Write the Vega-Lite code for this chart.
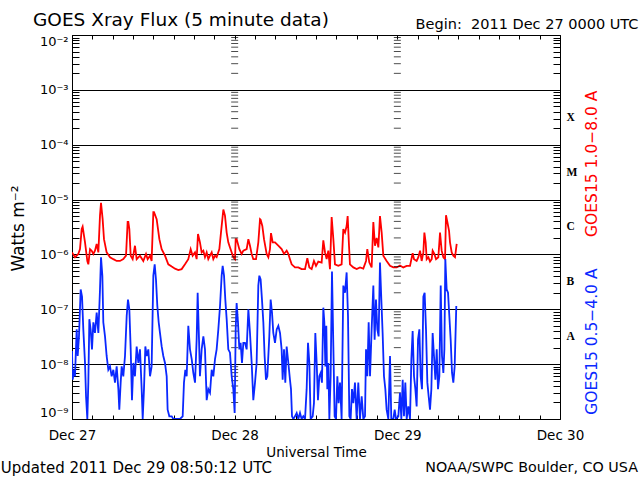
{
"$schema": "https://vega.github.io/schema/vega-lite/v6.json",
"width": 488, "height": 384,
"autosize": "none",
"padding": {"left": 72, "top": 35, "right": 80, "bottom": 61},
"background": "white",
"title": {"text": "GOES Xray Flux (5 minute data)", "anchor": "start", "frame": "group", "font": "DejaVu Sans", "fontSize": 18.5, "fontWeight": "normal", "color": "black", "dx": -39, "dy": 17},
"config": {"view": {"stroke": null}, "axis": {"labelFont": "DejaVu Sans", "titleFont": "DejaVu Sans", "domainColor": "black", "tickColor": "black", "labelColor": "black", "titleColor": "black", "titleFontWeight": "normal", "domainWidth": 1, "tickWidth": 1}},
"datasets": {
"long": [{"h":0,"f":1.09e-6},{"h":0.44,"f":8.9e-7},{"h":0.93,"f":1.02e-6},{"h":1.18,"f":1.25e-6},{"h":1.43,"f":2.9e-6},{"h":1.57,"f":3.2e-6},{"h":1.92,"f":1.66e-6},{"h":2.26,"f":7.6e-7},{"h":2.41,"f":6.6e-7},{"h":2.66,"f":1.25e-6},{"h":2.9,"f":1.17e-6},{"h":3.15,"f":1.02e-6},{"h":3.39,"f":1.17e-6},{"h":3.64,"f":1.55e-6},{"h":3.89,"f":1.09e-6},{"h":4.13,"f":5.1e-6},{"h":4.28,"f":8.7e-6},{"h":4.52,"f":4.4e-6},{"h":4.72,"f":1.9e-6},{"h":5.11,"f":1.09e-6},{"h":5.61,"f":8.9e-7},{"h":6.1,"f":8.2e-7},{"h":6.59,"f":7.6e-7},{"h":7.08,"f":7.6e-7},{"h":7.57,"f":8.2e-7},{"h":7.97,"f":9.5e-7},{"h":8.21,"f":3.9e-6},{"h":8.31,"f":3.9e-6},{"h":8.46,"f":2.9e-6},{"h":8.66,"f":9.5e-7},{"h":8.95,"f":8.2e-7},{"h":9.29,"f":1.44e-6},{"h":9.54,"f":8.2e-7},{"h":10.03,"f":9.5e-7},{"h":10.52,"f":7.6e-7},{"h":10.92,"f":1.02e-6},{"h":11.16,"f":8.2e-7},{"h":11.51,"f":9.5e-7},{"h":11.75,"f":7.6e-7},{"h":12.0,"f":5.9e-6},{"h":12.1,"f":5.9e-6},{"h":12.49,"f":4.4e-6},{"h":12.89,"f":1.9e-6},{"h":13.23,"f":1.25e-6},{"h":13.72,"f":9.5e-7},{"h":14.21,"f":6.6e-7},{"h":14.71,"f":6.0e-7},{"h":15.2,"f":5.5e-7},{"h":15.69,"f":5.2e-7},{"h":16.18,"f":5.4e-7},{"h":16.67,"f":6.6e-7},{"h":17.16,"f":8.2e-7},{"h":17.51,"f":1.25e-6},{"h":17.8,"f":9.5e-7},{"h":18.15,"f":1.09e-6},{"h":18.39,"f":8.2e-7},{"h":18.59,"f":2.35e-6},{"h":18.88,"f":1.66e-6},{"h":19.13,"f":1.09e-6},{"h":19.38,"f":1.17e-6},{"h":19.62,"f":8.9e-7},{"h":19.87,"f":1.09e-6},{"h":20.11,"f":8.2e-7},{"h":20.36,"f":9.5e-7},{"h":20.61,"f":1.09e-6},{"h":20.85,"f":8.2e-7},{"h":21.1,"f":9.5e-7},{"h":21.34,"f":8.9e-7},{"h":21.74,"f":1.25e-6},{"h":21.98,"f":2.5e-6},{"h":22.33,"f":6.6e-6},{"h":22.57,"f":5.1e-6},{"h":22.82,"f":2.5e-6},{"h":23.06,"f":1.66e-6},{"h":23.31,"f":1.34e-6},{"h":23.8,"f":8.9e-7},{"h":24.05,"f":8.2e-7},{"h":24.15,"f":1.9e-6},{"h":24.29,"f":1.9e-6},{"h":24.69,"f":1.25e-6},{"h":25.03,"f":1.02e-6},{"h":25.28,"f":1.17e-6},{"h":25.77,"f":1.25e-6},{"h":26.02,"f":1.9e-6},{"h":26.26,"f":1.44e-6},{"h":26.51,"f":1.02e-6},{"h":26.75,"f":8.2e-7},{"h":27.15,"f":8.2e-7},{"h":27.49,"f":1.66e-6},{"h":27.74,"f":4.4e-6},{"h":27.83,"f":4.3e-6},{"h":28.08,"f":3.3e-6},{"h":28.33,"f":1.9e-6},{"h":28.72,"f":1.02e-6},{"h":28.97,"f":8.9e-7},{"h":29.21,"f":1.25e-6},{"h":29.36,"f":2.45e-6},{"h":29.61,"f":1.66e-6},{"h":29.95,"f":1.66e-6},{"h":30.44,"f":1.44e-6},{"h":30.93,"f":1.25e-6},{"h":31.28,"f":1.02e-6},{"h":31.67,"f":1.17e-6},{"h":31.92,"f":1.02e-6},{"h":32.16,"f":8.2e-7},{"h":32.41,"f":6.6e-7},{"h":32.9,"f":5.8e-7},{"h":33.39,"f":5.8e-7},{"h":33.88,"f":5.4e-7},{"h":34.38,"f":5.4e-7},{"h":34.72,"f":8.5e-7},{"h":35.02,"f":5.8e-7},{"h":35.36,"f":5.4e-7},{"h":35.7,"f":7.6e-7},{"h":36.0,"f":6.2e-7},{"h":36.34,"f":7.4e-7},{"h":36.83,"f":7.1e-7},{"h":37.08,"f":1.8e-6},{"h":37.33,"f":1.09e-6},{"h":37.57,"f":8.2e-7},{"h":37.82,"f":1.17e-6},{"h":38.06,"f":5.4e-7},{"h":38.31,"f":4.8e-6},{"h":38.56,"f":1.9e-6},{"h":38.8,"f":6.6e-7},{"h":39.29,"f":6.2e-7},{"h":39.78,"f":6.6e-7},{"h":40.03,"f":2.9e-6},{"h":40.28,"f":2.5e-6},{"h":40.52,"f":3.3e-6},{"h":40.67,"f":5.0e-6},{"h":40.87,"f":1.44e-6},{"h":41.01,"f":6.6e-7},{"h":41.51,"f":5.8e-7},{"h":42.0,"f":5.4e-7},{"h":42.49,"f":5.8e-7},{"h":42.98,"f":5.5e-7},{"h":43.38,"f":7.6e-7},{"h":43.57,"f":1.25e-6},{"h":43.87,"f":7.1e-7},{"h":44.21,"f":5.8e-7},{"h":44.46,"f":3.9e-6},{"h":44.7,"f":1.44e-6},{"h":44.95,"f":2.0e-6},{"h":45.2,"f":1.34e-6},{"h":45.44,"f":5.0e-6},{"h":45.69,"f":2.5e-6},{"h":45.93,"f":9.5e-7},{"h":46.42,"f":7.6e-7},{"h":46.92,"f":6.2e-7},{"h":47.41,"f":5.8e-7},{"h":47.9,"f":5.8e-7},{"h":48.39,"f":6.3e-7},{"h":48.88,"f":5.8e-7},{"h":49.38,"f":6.2e-7},{"h":49.87,"f":6.2e-7},{"h":49.97,"f":7.1e-7},{"h":50.26,"f":1.05e-6},{"h":50.46,"f":8.2e-7},{"h":50.85,"f":7.6e-7},{"h":51.1,"f":8.9e-7},{"h":51.35,"f":1.17e-6},{"h":51.59,"f":7.6e-7},{"h":51.84,"f":1.09e-6},{"h":51.99,"f":2.5e-6},{"h":52.18,"f":1.66e-6},{"h":52.33,"f":8.2e-7},{"h":52.58,"f":8.9e-7},{"h":52.82,"f":7.4e-7},{"h":53.07,"f":8.2e-7},{"h":53.21,"f":1.17e-6},{"h":53.46,"f":1.02e-6},{"h":53.71,"f":8.2e-7},{"h":54.05,"f":8.9e-7},{"h":54.3,"f":2.5e-6},{"h":54.54,"f":1.17e-6},{"h":54.79,"f":8.9e-7},{"h":55.04,"f":8.2e-7},{"h":55.18,"f":5.2e-6},{"h":55.38,"f":3.9e-6},{"h":55.63,"f":2.7e-6},{"h":55.77,"f":1.66e-6},{"h":56.02,"f":1.09e-6},{"h":56.26,"f":9.5e-7},{"h":56.51,"f":8.9e-7},{"h":56.76,"f":1.55e-6}],
"short": [{"h":0,"f":1.74e-8},{"h":0.1,"f":5.2e-9},{"h":0.3,"f":7.9e-9},{"h":0.44,"f":6.0e-9},{"h":0.69,"f":4.3e-8},{"h":0.84,"f":1.41e-8},{"h":1.03,"f":3.2e-8},{"h":1.28,"f":2.3e-7},{"h":1.48,"f":1.7e-7},{"h":1.67,"f":4.3e-8},{"h":1.92,"f":1.05e-8},{"h":2.07,"f":2.6e-9},{"h":2.26,"f":1e-9},{"h":2.41,"f":4.6e-9},{"h":2.56,"f":6.6e-8},{"h":2.75,"f":4.3e-8},{"h":2.95,"f":1.86e-8},{"h":3.15,"f":5.8e-8},{"h":3.39,"f":3.7e-8},{"h":3.64,"f":8.7e-8},{"h":3.89,"f":3.7e-8},{"h":4.13,"f":2.3e-7},{"h":4.28,"f":8.9e-7},{"h":4.48,"f":4.1e-7},{"h":4.62,"f":5.8e-8},{"h":4.87,"f":3.2e-8},{"h":5.11,"f":1.41e-8},{"h":5.36,"f":7.9e-9},{"h":5.61,"f":9.1e-9},{"h":5.85,"f":6.0e-9},{"h":6.1,"f":7.9e-9},{"h":6.34,"f":4.6e-9},{"h":6.59,"f":9.1e-9},{"h":6.84,"f":3.5e-9},{"h":6.98,"f":1.48e-9},{"h":7.18,"f":4.6e-9},{"h":7.33,"f":9.1e-9},{"h":7.57,"f":6.0e-9},{"h":7.82,"f":1.41e-8},{"h":8.07,"f":7.6e-8},{"h":8.26,"f":1.5e-7},{"h":8.46,"f":1.0e-7},{"h":8.66,"f":1.86e-8},{"h":8.85,"f":2.2e-9},{"h":9.05,"f":1.05e-8},{"h":9.29,"f":6.0e-9},{"h":9.54,"f":2.1e-8},{"h":9.79,"f":1.05e-8},{"h":10.03,"f":1.86e-8},{"h":10.28,"f":3.5e-9},{"h":10.43,"f":1e-9},{"h":10.62,"f":3.5e-9},{"h":10.82,"f":2.1e-8},{"h":11.02,"f":1.41e-8},{"h":11.26,"f":1.86e-8},{"h":11.51,"f":6.0e-9},{"h":11.75,"f":9.1e-9},{"h":12.0,"f":4.1e-7},{"h":12.2,"f":6.6e-7},{"h":12.39,"f":3.5e-7},{"h":12.59,"f":1.15e-7},{"h":12.79,"f":5.8e-8},{"h":12.98,"f":3.7e-8},{"h":13.23,"f":2.1e-8},{"h":13.47,"f":1.41e-8},{"h":13.72,"f":1.05e-8},{"h":13.97,"f":6.0e-9},{"h":14.11,"f":1.48e-9},{"h":14.36,"f":1.12e-9},{"h":14.71,"f":1.12e-9},{"h":14.95,"f":1e-9},{"h":15.44,"f":1e-9},{"h":15.93,"f":1e-9},{"h":16.33,"f":1.12e-9},{"h":16.52,"f":4.6e-9},{"h":16.72,"f":7.9e-9},{"h":16.92,"f":6.0e-9},{"h":17.16,"f":5.0e-8},{"h":17.41,"f":1.86e-8},{"h":17.66,"f":1.23e-8},{"h":17.9,"f":6.9e-9},{"h":18.15,"f":4.6e-9},{"h":18.39,"f":2.8e-8},{"h":18.54,"f":2.0e-7},{"h":18.74,"f":2.8e-8},{"h":18.88,"f":6.0e-9},{"h":19.13,"f":1.86e-8},{"h":19.38,"f":3.2e-8},{"h":19.62,"f":1.86e-8},{"h":19.87,"f":2.2e-9},{"h":20.11,"f":3.5e-9},{"h":20.36,"f":3.0e-9},{"h":20.61,"f":7.9e-9},{"h":20.85,"f":6.0e-9},{"h":21.1,"f":1.23e-8},{"h":21.34,"f":1.86e-8},{"h":21.59,"f":4.3e-8},{"h":21.84,"f":1.15e-7},{"h":22.08,"f":4.1e-7},{"h":22.23,"f":6.2e-7},{"h":22.43,"f":4.1e-7},{"h":22.62,"f":1.5e-7},{"h":22.82,"f":6.6e-8},{"h":23.06,"f":1.86e-8},{"h":23.31,"f":1.62e-8},{"h":23.56,"f":6.0e-9},{"h":23.8,"f":3.5e-9},{"h":24.0,"f":1.29e-9},{"h":24.15,"f":4.3e-8},{"h":24.29,"f":1.3e-7},{"h":24.49,"f":5.8e-8},{"h":24.69,"f":1.86e-8},{"h":24.88,"f":2.45e-8},{"h":25.08,"f":1.05e-8},{"h":25.28,"f":2.45e-8},{"h":25.52,"f":2.45e-8},{"h":25.77,"f":1.86e-8},{"h":26.02,"f":1.0e-7},{"h":26.26,"f":3.7e-8},{"h":26.51,"f":1.05e-8},{"h":26.75,"f":2.2e-9},{"h":27.0,"f":4.6e-9},{"h":27.24,"f":1.05e-8},{"h":27.49,"f":2.7e-7},{"h":27.64,"f":4.1e-7},{"h":27.83,"f":3.5e-7},{"h":28.03,"f":1.5e-7},{"h":28.23,"f":5.8e-8},{"h":28.42,"f":1.41e-8},{"h":28.62,"f":5.2e-9},{"h":28.82,"f":6.0e-9},{"h":29.11,"f":3.2e-8},{"h":29.31,"f":1.5e-7},{"h":29.51,"f":8.7e-8},{"h":29.7,"f":3.7e-8},{"h":29.95,"f":2.45e-8},{"h":30.2,"f":4.3e-8},{"h":30.44,"f":5.0e-8},{"h":30.69,"f":3.7e-8},{"h":30.93,"f":1.86e-8},{"h":31.08,"f":5.2e-9},{"h":31.28,"f":1.86e-8},{"h":31.47,"f":4.6e-9},{"h":31.67,"f":2.1e-8},{"h":31.92,"f":1.05e-8},{"h":32.16,"f":5.2e-9},{"h":32.31,"f":3.5e-9},{"h":32.46,"f":1.12e-9},{"h":32.65,"f":1e-9},{"h":32.9,"f":1.12e-9},{"h":33.15,"f":1.29e-9},{"h":33.39,"f":1e-9},{"h":33.64,"f":1.29e-9},{"h":33.88,"f":1e-9},{"h":34.13,"f":1.12e-9},{"h":34.38,"f":1e-9},{"h":34.62,"f":3.5e-9},{"h":34.82,"f":2.45e-8},{"h":35.02,"f":1.05e-8},{"h":35.21,"f":1e-9},{"h":35.51,"f":1.12e-9},{"h":35.7,"f":1.95e-9},{"h":35.9,"f":3.7e-8},{"h":36.1,"f":1.05e-8},{"h":36.29,"f":2.2e-9},{"h":36.49,"f":6.0e-9},{"h":36.69,"f":6.9e-9},{"h":36.88,"f":4.6e-9},{"h":37.08,"f":1.07e-7},{"h":37.23,"f":5.8e-8},{"h":37.38,"f":9.1e-9},{"h":37.52,"f":5.0e-8},{"h":37.67,"f":3.5e-9},{"h":37.82,"f":1.05e-8},{"h":37.97,"f":1e-9},{"h":38.16,"f":6.0e-9},{"h":38.36,"f":4.9e-7},{"h":38.56,"f":2.1e-8},{"h":38.75,"f":1.12e-9},{"h":38.95,"f":1e-9},{"h":39.15,"f":6.0e-9},{"h":39.34,"f":1.95e-9},{"h":39.54,"f":4.6e-9},{"h":39.78,"f":1e-9},{"h":40.03,"f":2.7e-7},{"h":40.28,"f":2.0e-7},{"h":40.52,"f":4.7e-7},{"h":40.72,"f":7.6e-8},{"h":40.92,"f":1.12e-9},{"h":41.11,"f":1e-9},{"h":41.31,"f":3.5e-9},{"h":41.51,"f":1.95e-9},{"h":41.75,"f":4.6e-9},{"h":42.0,"f":1e-9},{"h":42.24,"f":4.6e-9},{"h":42.49,"f":1e-9},{"h":42.74,"f":2.6e-9},{"h":42.98,"f":1e-9},{"h":43.23,"f":1.12e-9},{"h":43.38,"f":1.86e-8},{"h":43.57,"f":6.0e-9},{"h":43.77,"f":5.8e-8},{"h":43.97,"f":6.0e-9},{"h":44.21,"f":4.3e-8},{"h":44.46,"f":2.7e-7},{"h":44.65,"f":2.8e-8},{"h":44.85,"f":1.5e-7},{"h":45.05,"f":4.3e-8},{"h":45.24,"f":3.2e-8},{"h":45.44,"f":7.1e-7},{"h":45.64,"f":1.5e-7},{"h":45.83,"f":3.7e-8},{"h":46.03,"f":6.0e-9},{"h":46.23,"f":3.5e-9},{"h":46.42,"f":1.48e-9},{"h":46.67,"f":1e-9},{"h":46.92,"f":1.41e-8},{"h":47.11,"f":1e-9},{"h":47.41,"f":1e-9},{"h":47.61,"f":1.48e-9},{"h":47.8,"f":1e-9},{"h":48.15,"f":1.12e-9},{"h":48.39,"f":3.0e-9},{"h":48.59,"f":1e-9},{"h":48.79,"f":5.2e-9},{"h":48.98,"f":1.12e-9},{"h":49.18,"f":4.6e-9},{"h":49.38,"f":1e-9},{"h":49.62,"f":1.7e-9},{"h":49.87,"f":1e-9},{"h":50.07,"f":1.23e-8},{"h":50.26,"f":4.0e-8},{"h":50.46,"f":6.0e-9},{"h":50.66,"f":3.5e-9},{"h":50.85,"f":1.7e-9},{"h":51.05,"f":2.8e-8},{"h":51.25,"f":4.3e-8},{"h":51.44,"f":6.0e-9},{"h":51.64,"f":3.5e-9},{"h":51.84,"f":1.7e-7},{"h":52.03,"f":2.0e-7},{"h":52.23,"f":4.3e-8},{"h":52.43,"f":4.6e-9},{"h":52.62,"f":2.6e-9},{"h":52.82,"f":1.48e-9},{"h":53.02,"f":3.5e-9},{"h":53.21,"f":3.7e-8},{"h":53.41,"f":1.41e-8},{"h":53.61,"f":5.2e-9},{"h":53.81,"f":1.86e-8},{"h":54.0,"f":3.5e-9},{"h":54.2,"f":6.0e-9},{"h":54.4,"f":2.7e-7},{"h":54.59,"f":1.41e-8},{"h":54.79,"f":6.9e-9},{"h":54.94,"f":1.86e-8},{"h":55.08,"f":8.2e-7},{"h":55.28,"f":2.3e-7},{"h":55.48,"f":2.0e-7},{"h":55.67,"f":7.6e-8},{"h":55.87,"f":2.8e-8},{"h":56.07,"f":6.9e-9},{"h":56.26,"f":4.6e-9},{"h":56.46,"f":9.1e-9},{"h":56.7,"f":1.15e-7}],
"minors": [{"f":2e-9},{"f":3e-9},{"f":4e-9},{"f":5e-9},{"f":6e-9},{"f":7e-9},{"f":8e-9},{"f":9e-9},{"f":2e-8},{"f":3e-8},{"f":4e-8},{"f":5e-8},{"f":6e-8},{"f":7e-8},{"f":8e-8},{"f":9e-8},{"f":2e-7},{"f":3e-7},{"f":4e-7},{"f":5e-7},{"f":6e-7},{"f":7e-7},{"f":8e-7},{"f":9e-7},{"f":2e-6},{"f":3e-6},{"f":4e-6},{"f":5e-6},{"f":6e-6},{"f":7e-6},{"f":8e-6},{"f":9e-6},{"f":2e-5},{"f":3e-5},{"f":4e-5},{"f":5e-5},{"f":6e-5},{"f":7e-5},{"f":8e-5},{"f":9e-5},{"f":2e-4},{"f":3e-4},{"f":4e-4},{"f":5e-4},{"f":6e-4},{"f":7e-4},{"f":8e-4},{"f":9e-4},{"f":2e-3},{"f":3e-3},{"f":4e-3},{"f":5e-3},{"f":6e-3},{"f":7e-3},{"f":8e-3},{"f":9e-3}]
},
"layer": [
{"data": {"name": "long"},
 "mark": {"type": "line", "color": "#ff0000", "strokeWidth": 1.8, "clip": true},
 "encoding": {
  "x": {"field": "h", "type": "quantitative", "scale": {"domain": [0, 72], "nice": false, "zero": false},
   "axis": {"orient": "bottom", "values": [0,3,6,9,12,15,18,21,24,27,30,33,36,39,42,45,48,51,54,57,60,63,66,69,72], "tickSize": -4, "labelExpr": "datum.value % 24 == 0 ? ['Dec 27','Dec 28','Dec 29','Dec 30'][datum.value/24] : ''", "labelFontSize": 13.5, "labelPadding": 13, "labelFlush": false, "labelOverlap": false, "grid": false, "title": "Universal Time", "titleFontSize": 13.5, "titleY": 37, "titleBaseline": "alphabetic"}},
  "y": {"field": "f", "type": "quantitative", "scale": {"type": "log", "domain": [1e-9, 1e-2], "nice": false},
   "axis": {"orient": "left", "values": [1e-9,2e-9,3e-9,4e-9,5e-9,6e-9,7e-9,8e-9,9e-9,1e-8,2e-8,3e-8,4e-8,5e-8,6e-8,7e-8,8e-8,9e-8,1e-7,2e-7,3e-7,4e-7,5e-7,6e-7,7e-7,8e-7,9e-7,1e-6,2e-6,3e-6,4e-6,5e-6,6e-6,7e-6,8e-6,9e-6,1e-5,2e-5,3e-5,4e-5,5e-5,6e-5,7e-5,8e-5,9e-5,1e-4,2e-4,3e-4,4e-4,5e-4,6e-4,7e-4,8e-4,9e-4,1e-3,2e-3,3e-3,4e-3,5e-3,6e-3,7e-3,8e-3,9e-3,1e-2],
    "tickSize": -7,
    "labelExpr": "abs(log(datum.value)/LN10 - round(log(datum.value)/LN10)) < 0.001 ? '10' + ['⁻⁹','⁻⁸','⁻⁷','⁻⁶','⁻⁵','⁻⁴','⁻³','⁻²'][round(log(datum.value)/LN10) + 9] : ''",
    "labelFontSize": 13, "labelPadding": 11, "labelFlush": true, "labelOverlap": false,
    "grid": true, "gridColor": "black", "gridWidth": 1.2,
    "gridOpacity": {"condition": {"test": "abs(log(datum.value)/LN10 - round(log(datum.value)/LN10)) < 0.001", "value": 1}, "value": 0},
    "title": "Watts m⁻²", "titleFontSize": 17, "titleX": -54, "titleY": 193, "titleAlign": "center", "titleBaseline": "middle"}}
 }},
{"data": {"name": "minors"},
 "mark": {"type": "tick", "orient": "horizontal", "size": 7, "thickness": 1, "color": "black"},
 "encoding": {
  "x": {"datum": 24, "type": "quantitative",
   "axis": {"orient": "top", "values": [0,3,6,9,12,15,18,21,24,27,30,33,36,39,42,45,48,51,54,57,60,63,66,69,72], "tickSize": -4, "labels": false, "grid": false, "title": "Begin:\u00a0 2011 Dec 27 0000 UTC", "titleFontSize": 14.5, "titleX": 566, "titleY": -7, "titleAlign": "right", "titleBaseline": "alphabetic"}},
  "y": {"field": "f", "type": "quantitative",
   "axis": {"orient": "right", "values": [2e-9,3e-9,4e-9,5e-9,6e-9,7e-9,8e-9,9e-9,3.16228e-8,2e-8,3e-8,4e-8,5e-8,6e-8,7e-8,8e-8,9e-8,3.16228e-7,2e-7,3e-7,4e-7,5e-7,6e-7,7e-7,8e-7,9e-7,3.16228e-6,2e-6,3e-6,4e-6,5e-6,6e-6,7e-6,8e-6,9e-6,3.16228e-5,2e-5,3e-5,4e-5,5e-5,6e-5,7e-5,8e-5,9e-5,3.16228e-4,2e-4,3e-4,4e-4,5e-4,6e-4,7e-4,8e-4,9e-4,2e-3,3e-3,4e-3,5e-3,6e-3,7e-3,8e-3,9e-3],
    "tickSize": -7,
    "tickOpacity": {"condition": {"test": "abs(log(datum.value)/LN10 - round(log(datum.value)/LN10)) > 0.495", "value": 0}, "value": 1},
    "labelExpr": "abs(log(datum.value)/LN10 - round(log(datum.value)/LN10)) > 0.495 ? ['A','B','C','M','X'][round(log(datum.value)/LN10 + 7.5)] : ''",
    "labelFont": "Liberation Serif", "labelFontWeight": "bold", "labelFontSize": 11.5, "labelPadding": 13, "labelFlush": false, "labelOverlap": false, "grid": false, "title": null}}
 }},
{"data": {"name": "minors"},
 "mark": {"type": "tick", "orient": "horizontal", "size": 7, "thickness": 1, "color": "black"},
 "encoding": {"x": {"datum": 48, "type": "quantitative", "axis": null}, "y": {"field": "f", "type": "quantitative", "axis": null}}},
{"data": {"name": "short"},
 "mark": {"type": "line", "color": "#0a28ff", "strokeWidth": 1.8, "clip": true},
 "encoding": {"x": {"field": "h", "type": "quantitative", "axis": null}, "y": {"field": "f", "type": "quantitative", "axis": null}}},
{"data": {"values": [{"note": "Updated 2011 Dec 29 08:50:12 UTC"}]},
 "mark": {"type": "text", "align": "left", "baseline": "middle", "font": "DejaVu Sans", "fontSize": 15, "color": "black"},
 "encoding": {"x": {"datum": -10.5, "type": "quantitative", "axis": null}, "y": {"datum": 1.29e-10, "type": "quantitative", "axis": null}, "text": {"field": "note"}}},
{"data": {"values": [{"note": "NOAA/SWPC Boulder, CO USA"}]},
 "mark": {"type": "text", "align": "right", "baseline": "middle", "font": "DejaVu Sans", "fontSize": 14.3, "color": "black"},
 "encoding": {"x": {"datum": 83.5, "type": "quantitative", "axis": null}, "y": {"datum": 1.29e-10, "type": "quantitative", "axis": null}, "text": {"field": "note"}}},
{"data": {"values": [{"note": "GOES15 1.0−8.0 A"}]},
 "mark": {"type": "text", "align": "center", "baseline": "middle", "angle": 270, "font": "DejaVu Sans", "fontSize": 15.5, "color": "#ff0000"},
 "encoding": {"x": {"datum": 76.7, "type": "quantitative", "axis": null}, "y": {"datum": 4.5e-5, "type": "quantitative", "axis": null}, "text": {"field": "note"}}},
{"data": {"values": [{"note": "GOES15 0.5−4.0 A"}]},
 "mark": {"type": "text", "align": "center", "baseline": "middle", "angle": 270, "font": "DejaVu Sans", "fontSize": 15.5, "color": "#0a28ff"},
 "encoding": {"x": {"datum": 76.7, "type": "quantitative", "axis": null}, "y": {"datum": 2.57e-8, "type": "quantitative", "axis": null}, "text": {"field": "note"}}}
],
"resolve": {"axis": {"x": "independent", "y": "independent"}}
}
